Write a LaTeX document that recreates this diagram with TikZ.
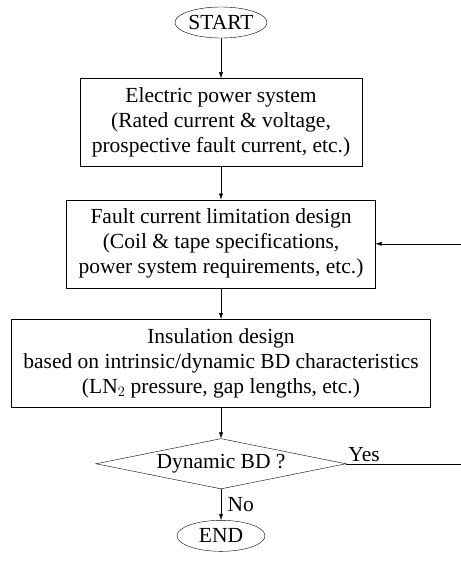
\documentclass[tikz,border=0pt]{standalone}
\usepackage{fontspec}
\setmainfont{Liberation Serif}
\usepackage{tikz}
\usetikzlibrary{positioning, shapes.geometric, arrows.meta, calc}

\begin{document}
\begin{tikzpicture}[
                terminal/.style={
                    draw, ellipse, thin,
                    minimum width=88pt,
                    minimum height=31pt,
                    inner sep=0pt,
                    font=\fontsize{21.5}{25}\selectfont
                },
                procbox/.style={
                    draw, thin,
                    inner xsep=12pt,
                    minimum height=88pt,
                    align=center,
                    font=\fontsize{21.5}{25}\selectfont
                },
                decision/.style={
                    draw, diamond, thin,
                    aspect=4.1,
                    minimum width=250pt,
                    inner sep=0pt,
                    font=\fontsize{21.5}{25}\selectfont
                },
                flow/.style={
                    draw, thin,
                    -{Latex[length=6pt,width=4pt]}
                },
                lbl/.style={
                    font=\fontsize{21.5}{25}\selectfont
                }
            ]

            % --- Rahmen (461 x 563) ---
            \useasboundingbox (0,0) rectangle (461pt,-563pt);
            \coordinate (edgeR) at (461pt,0);

            % --- Knoten von oben nach unten ---
            \node[terminal] (start) at (221pt,-22.5pt) {START};

            \node[procbox, below=40pt of start] (power) {
                Electric power system\\
                (Rated current \& voltage,\\
                prospective fault current, etc.)
            };

            \node[procbox, below=33pt of power] (limit) {
                Fault current limitation design\\
                (Coil \& tape specifications,\\
                power system requirements, etc.)
            };

            \node[procbox, below=31pt of limit] (insul) {
                Insulation design\\
                based on intrinsic/dynamic BD characteristics\\
                (LN$_2$ pressure, gap lengths, etc.)
            };

            \node[decision, below=31pt of insul] (dynbd) {Dynamic BD ?};

            \node[terminal, below=31pt of dynbd] (stop) {END};

            % --- Verbindungen ---
            \draw[flow] (start) -- (power);
            \draw[flow] (power) -- (limit);
            \draw[flow] (limit) -- (insul);
            \draw[flow] (insul) -- (dynbd);
            \draw[flow] (dynbd) -- node[lbl, right=3pt] {No} (stop);

            % Rueckfuehrung (rechts abgeschnitten)
            \draw[thin] (dynbd.east) -- (dynbd.east -| edgeR)
                node[lbl, pos=0, above right, inner sep=2pt] {Yes};
            \draw[flow] (limit.east -| edgeR) -- (limit.east);

        \end{tikzpicture}
\end{document}
